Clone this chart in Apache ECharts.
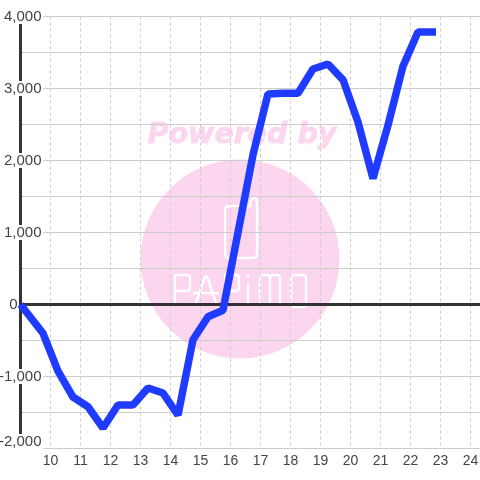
<!DOCTYPE html>
<html><head><meta charset="utf-8">
<style>html,body{margin:0;padding:0;background:#fff}#c{width:480px;height:480px}</style>
<script src="https://cdn.jsdelivr.net/npm/echarts@6/dist/echarts.min.js"></script>
</head><body><div id="c"></div>
<script>
const hours = [9,9.75,10.25,10.75,11.25,11.75,12.25,12.75,13.25,13.75,14.25,14.75,15.25,15.75,16.25,16.75,17.25,17.75,18.25,18.75,19.25,19.75,20.25,20.75,21.25,21.75,22.25,22.85];
const values = [0,-400,-925,-1285,-1420,-1715,-1395,-1395,-1160,-1230,-1535,-490,-170,-80,1000,2080,2925,2935,2935,3270,3340,3120,2535,1750,2490,3310,3785,3785];
const yTickLabels = {'4000':'4,000','3000':'3,000','2000':'2,000','1000':'1,000','-1000':'-1,000','-2000':'-2,000'};
const wm = '#fbd6ee';
const logoPaths = [
  'M225,210 Q225,206 229,206 L250,206 L251,200 Q252,198 254,198 Q257,198 257,202 L257,254 Q257,258 253,258 L229,258 Q225,258 225,254 Z',
  'M175,306 L175,275 L187,275 Q190,275 190,278 L190,288 Q190,291 187,291 L175,291',
  'M195,306 L204,279 Q206,274 208,279 L217,306 M193,293 L219,293',
  'M225,306 L225,275 L236,275 Q239,275 239,278 L239,288 Q239,291 236,291 L225,291',
  'M248,283 L248,306 M248,274 L248,277',
  'M260,306 L260,278 Q260,275 263,275 L267,275 Q270,275 270,278 L270,306 M270,278 Q270,275 273,275 L277,275 Q280,275 280,278 L280,306',
  'M291,278 Q291,275 294,275 L303,275 Q306,275 306,278 L306,303 Q306,307 303,307 L294,307 Q291,307 291,303 Z'
];
logoPaths.forEach((p,i)=>echarts.graphic.registerShape('logo'+i, echarts.graphic.extendPath(p,{})));
const chart = echarts.init(document.getElementById('c'), null, {renderer:'canvas'});
chart.setOption({
  animation:false,
  backgroundColor:'#fff',
  grid:{left:20.5,right:0,top:16.5,bottom:31.5,containLabel:false,outerBoundsMode:'none'},
  graphic:[
    {type:'circle',z:-3,shape:{cx:240,cy:259,r:99.5},style:{fill:wm}},
    {type:'text',z:-2,x:242,y:136,style:{text:'Powered by',font:'italic bold 28.5px "DejaVu Sans"',fill:wm,stroke:wm,lineWidth:0.8,align:'center',verticalAlign:'middle'}}
  ].concat(logoPaths.map((p,i)=>({type:'logo'+i,z:-1,style:{stroke:'#fff',lineWidth:2.4,fill:null}}))),
  xAxis:[{
    type:'value',min:9,max:24.317,interval:1,position:'bottom',
    axisLine:{onZero:false,show:true,lineStyle:{color:'#ccc',width:1}},axisTick:{show:false},
    axisLabel:{color:'#444',fontFamily:'"Liberation Sans"',fontSize:14,margin:6,showMaxLabel:false,
      formatter:v=>v===9?'':String(v)},
    splitLine:{show:true,lineStyle:{color:'#ccc',type:[3,3],width:1}}
  },{
    type:'value',min:9,max:24.317,interval:1,position:'top',
    axisLine:{onZero:true,show:true,lineStyle:{color:'#333',width:3}},axisTick:{show:false},axisLabel:{show:false},splitLine:{show:false}
  }],
  yAxis:{
    type:'value',min:-2000,max:4000,interval:500,
    axisLine:{show:true,onZero:false,lineStyle:{color:'#333',width:3}},axisTick:{show:false},
    splitLine:{show:true,lineStyle:{color:'#ccc',width:1}},
    axisLabel:{inside:true,margin:23,align:'right',showMinLabel:true,showMaxLabel:true,hideOverlap:false,
      formatter:v=>v===0?'{z|0}':(v===-2000?'{b|'+yTickLabels['-2000']+'}':(yTickLabels[String(v)]?'{n|'+yTickLabels[String(v)]+'}':'')),
      rich:{
        n:{color:'#444',fontFamily:'"Liberation Sans"',fontSize:15,backgroundColor:'#fff',padding:[0,2,0,2]},
        b:{color:'#444',fontFamily:'"Liberation Sans"',fontSize:15,backgroundColor:'#fff',padding:[0,2,14,2]},
        z:{color:'#444',fontFamily:'"Liberation Sans"',fontSize:15,padding:[0,26,0,0]}
      }}
  },
  series:[{type:'line',xAxisIndex:0,yAxisIndex:0,z:5,showSymbol:false,symbol:'none',smooth:false,
    data:hours.map((h,i)=>[h,values[i]]),
    lineStyle:{color:'#1f3bff',width:7.5,cap:'butt',join:'bevel'}}]
});
</script></body></html>
